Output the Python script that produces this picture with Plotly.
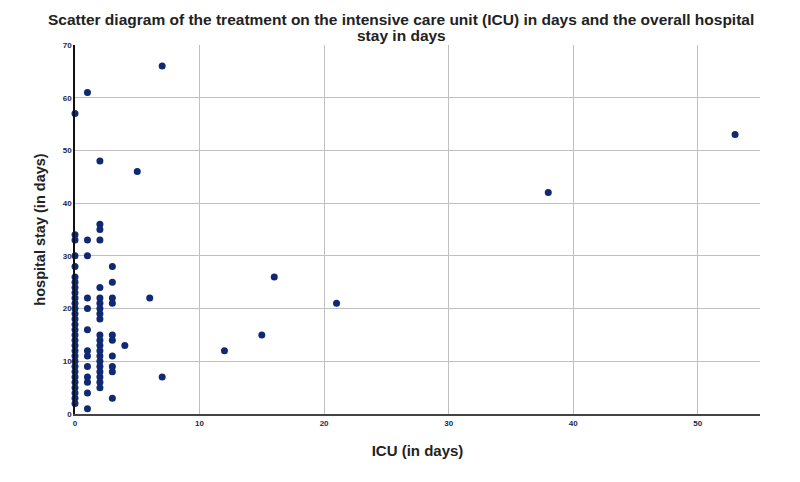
import plotly.graph_objects as go

# ICU days and hospital stay (days)
icu_0_stay = list(range(2, 27)) + [28, 30, 33, 34, 57]
icu_1_stay = [1, 4, 6, 7, 9, 11, 12, 16, 20, 22, 30, 33, 61]
icu_2_stay = list(range(5, 16)) + [18, 19, 20, 21, 22, 24, 33, 35, 36, 48]
icu_3_stay = [3, 8, 9, 11, 14, 15, 21, 22, 25, 28]
other_icu = [4, 5, 6, 7, 7, 12, 15, 16, 21, 38, 53]
other_stay = [13, 46, 22, 7, 66, 12, 15, 26, 21, 42, 53]

icu = ([0] * len(icu_0_stay) + [1] * len(icu_1_stay) + [2] * len(icu_2_stay)
       + [3] * len(icu_3_stay) + other_icu)
stay = icu_0_stay + icu_1_stay + icu_2_stay + icu_3_stay + other_stay

x_ticks = [0, 10, 20, 30, 40, 50]
y_ticks = [0, 10, 20, 30, 40, 50, 60, 70]

title_line1 = "<b>Scatter diagram of the treatment on the intensive care unit (ICU) in days and the overall hospital</b>"
title_line2 = "<b>stay in days</b>"

fig = go.Figure(go.Scatter(
    x=icu, y=stay, mode="markers",
    marker=dict(color="#0f2a72", size=7, line=dict(width=0)),
    cliponaxis=False,
))

PH = 369  # plot height in px
title_cx = (401 - 75) / 685

fig.update_layout(
    width=792, height=474,
    paper_bgcolor="white", plot_bgcolor="white",
    margin=dict(l=67, r=40, t=37, b=68, autoexpand=False),
    showlegend=False,
    font=dict(family="Liberation Sans, Arial, sans-serif", color="#222"),
    annotations=[
        dict(text=title_line1, xref="paper", yref="paper",
             x=title_cx, y=1 + (45 - 20) / PH, xanchor="center", yanchor="middle",
             showarrow=False, font=dict(size=15.5, color="#222")),
        dict(text=title_line2, xref="paper", yref="paper",
             x=title_cx, y=1 + (45 - 35) / PH, xanchor="center", yanchor="middle",
             showarrow=False, font=dict(size=15.5, color="#222")),
    ],
    xaxis=dict(
        range=[0, 55], tickvals=x_ticks, ticktext=[f"<b>{v}</b>" for v in x_ticks],
        showgrid=True, gridcolor="#c0c0c0", gridwidth=1, automargin=False,
        zeroline=False, showline=True, linecolor="#444", linewidth=2,
        ticks="", tickfont=dict(size=8, color="#1a2a50"),
        title=dict(text="<b>ICU (in days)</b>", font=dict(size=15, color="#222"), standoff=19),
    ),
    yaxis=dict(
        range=[0, 70], tickvals=y_ticks, ticktext=[f"<b>{v}</b>" for v in y_ticks],
        showgrid=True, gridcolor="#c0c0c0", gridwidth=1, automargin=False,
        zeroline=False, showline=True, linecolor="#111", linewidth=1.5,
        ticks="", tickfont=dict(size=8, color="#1a2a50"),
        title=dict(text="<b>hospital stay (in days)</b>", font=dict(size=14.5, color="#222"), standoff=14),
    ),
)

fig.write_html("out.html")
